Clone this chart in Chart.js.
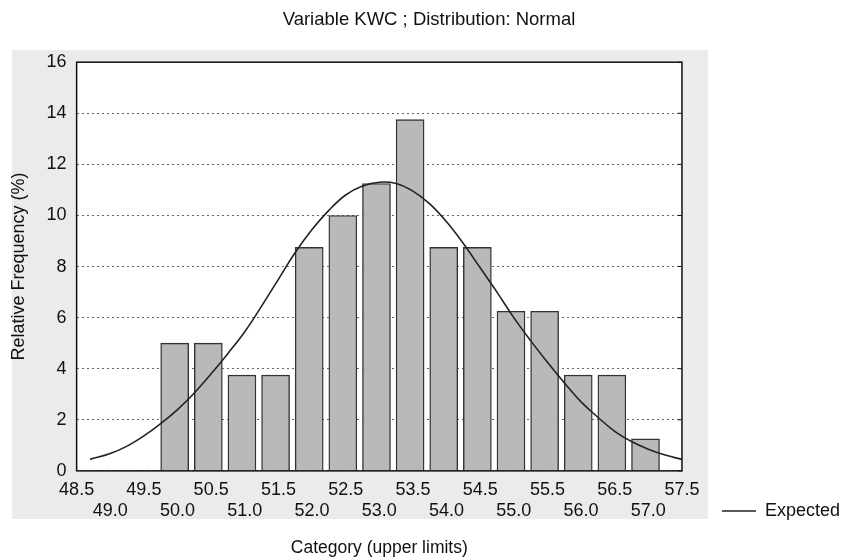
<!DOCTYPE html>
<html>
<head>
<meta charset="utf-8">
<script src="https://cdn.jsdelivr.net/npm/chart.js@4.4.1/dist/chart.umd.min.js"></script>
<style>
  html, body { margin: 0; padding: 0; background: #fff; }
  #wrap { width: 850px; height: 560px; }
</style>
</head>
<body>
<div id="wrap"><canvas id="chart"></canvas></div>
<script>
// bins of 0.5 width, labelled by their upper limit
var binUpper = ['49.0', '49.5', '50.0', '50.5', '51.0', '51.5', '52.0', '52.5', '53.0',
                '53.5', '54.0', '54.5', '55.0', '55.5', '56.0', '56.5', '57.0', '57.5'];
var relFreq = [0, 0, 5, 5, 3.75, 3.75, 8.75, 10, 11.25,
               13.75, 8.75, 8.75, 6.25, 6.25, 3.75, 3.75, 1.25, 0];

// expected normal curve
var expectedX = [48.7, 49.0, 49.25, 49.5, 49.75, 50.0, 50.25, 50.5, 50.75, 51.0, 51.25, 51.5,
                 51.75, 52.0, 52.25, 52.5, 52.75, 53.0, 53.25, 53.5, 53.75, 54.0, 54.25, 54.5,
                 54.75, 55.0, 55.25, 55.5, 55.75, 56.0, 56.25, 56.5, 56.75, 57.0, 57.25, 57.5];
var expectedY = [0.45, 0.68, 0.97, 1.37, 1.85, 2.4, 3.05, 3.8, 4.6, 5.45, 6.45, 7.5,
                 8.55, 9.45, 10.2, 10.8, 11.15, 11.3, 11.25, 10.95, 10.45, 9.75, 8.9, 7.95,
                 7.0, 6.0, 5.1, 4.25, 3.45, 2.7, 2.1, 1.55, 1.15, 0.85, 0.62, 0.45];

var xTickLabels = ['48.5', '49.0', '49.5', '50.0', '50.5', '51.0', '51.5', '52.0', '52.5', '53.0',
                   '53.5', '54.0', '54.5', '55.0', '55.5', '56.0', '56.5', '57.0', '57.5'];
var yTicks = [0, 2, 4, 6, 8, 10, 12, 14, 16];

var FONT = 'Liberation Sans, Arial, sans-serif';

// grey panel behind the plot, white plot area, black frame
var framePlugin = {
    id: 'frame',
    beforeDraw: function (chart) {
        var ctx = chart.ctx, a = chart.chartArea;
        ctx.save();
        ctx.fillStyle = '#ffffff';
        ctx.fillRect(0, 0, chart.width, chart.height);
        ctx.fillStyle = '#ebebeb';
        ctx.fillRect(12, 50, 696, 469);
        ctx.fillStyle = '#ffffff';
        ctx.fillRect(a.left, a.top, a.right - a.left, a.bottom - a.top);
        ctx.restore();
    },
    afterDatasetsDraw: function (chart) {
        var ctx = chart.ctx, a = chart.chartArea, ys = chart.scales.y;
        ctx.save();
        ctx.strokeStyle = '#111';
        ctx.lineWidth = 1.5;
        ctx.strokeRect(a.left, a.top, a.right - a.left, a.bottom - a.top);
        ctx.lineWidth = 1;
        ys.ticks.forEach(function (t) {
            var py = ys.getPixelForValue(t.value);
            ctx.beginPath();
            ctx.moveTo(a.right - 4, py);
            ctx.lineTo(a.right, py);
            ctx.stroke();
        });
        ctx.restore();
    }
};

var ctx = document.getElementById('chart').getContext('2d');
var chart = new Chart(ctx, {
    data: {
        labels: binUpper,
        datasets: [
            {
                type: 'line',
                label: 'Expected',
                data: expectedX.map(function (x, i) { return { x: x, y: expectedY[i] }; }),
                xAxisID: 'x',
                borderColor: '#222',
                borderWidth: 1.6,
                pointRadius: 0,
                pointStyle: 'line',
                tension: 0.4,
                fill: false,
                order: 0
            },
            {
                type: 'bar',
                label: 'Relative Frequency',
                data: relFreq,
                xAxisID: 'xCat',
                backgroundColor: '#b9b9b9',
                borderColor: '#333',
                borderWidth: 1.4,
                barThickness: 28,
                order: 1
            }
        ]
    },
    options: {
        responsive: true,
        maintainAspectRatio: false,
        animation: false,
        layout: { padding: { left: 8, right: 0, top: 6, bottom: 0 } },
        plugins: {
            title: {
                display: true,
                text: 'Variable KWC ; Distribution: Normal',
                color: '#111',
                font: { family: FONT, size: 18.5, weight: 'normal' },
                padding: { top: 3, bottom: 31 }
            },
            legend: {
                display: true,
                position: 'right',
                align: 'end',
                labels: {
                    filter: function (item) { return item.text === 'Expected'; },
                    usePointStyle: true,
                    pointStyleWidth: 34,
                    padding: 40,
                    color: '#111',
                    font: { family: FONT, size: 18 }
                }
            },
            tooltip: { enabled: false }
        },
        scales: {
            x: {
                type: 'linear',
                position: 'bottom',
                min: 48.5,
                max: 57.5,
                grid: { display: false, drawTicks: false },
                border: { display: false },
                ticks: {
                    stepSize: 0.5,
                    autoSkip: false,
                    maxRotation: 0,
                    padding: 9,
                    color: '#111',
                    font: { family: FONT, size: 18, lineHeight: 1.17 },
                    callback: function (value, index) {
                        var t = xTickLabels[index];
                        return index % 2 === 0 ? [t] : ['', t];
                    }
                },
                title: {
                    display: true,
                    text: 'Category (upper limits)',
                    color: '#111',
                    font: { family: FONT, size: 17.5 },
                    padding: { top: 7, bottom: 1 }
                }
            },
            xCat: {
                type: 'category',
                display: false,
                offset: true
            },
            y: {
                min: 0,
                max: 16,
                afterBuildTicks: function (scale) {
                    scale.ticks = yTicks.map(function (v) { return { value: v }; });
                },
                grid: {
                    color: '#666',
                    lineWidth: 1,
                    drawTicks: false
                },
                border: { display: false, dash: [2, 3] },
                ticks: {
                    padding: 10,
                    color: '#111',
                    font: { family: FONT, size: 18 }
                },
                title: {
                    display: true,
                    text: 'Relative Frequency (%)',
                    color: '#111',
                    font: { family: FONT, size: 18 },
                    padding: { top: 0, bottom: 7 }
                }
            }
        }
    },
    plugins: [framePlugin]
});
</script>
</body>
</html>
